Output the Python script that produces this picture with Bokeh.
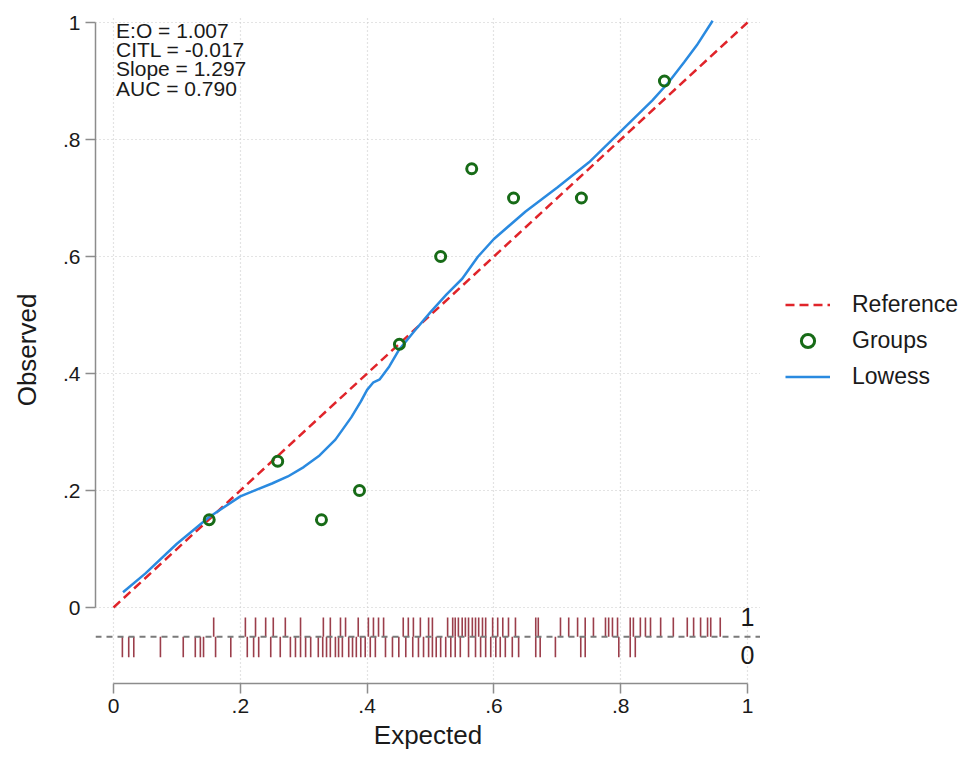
from bokeh.plotting import figure
from bokeh.layouts import row
from bokeh.models import (Legend, LegendItem, FixedTicker, Range1d, Span, Label)
from bokeh.embed import file_html
from bokeh.resources import INLINE

# ---------------- data ----------------
ref_x = [0.0, 1.0]
ref_y = [0.0, 1.0]

group_x = [0.151, 0.259, 0.328, 0.388, 0.451, 0.516, 0.565, 0.631, 0.738, 0.869]
group_y = [0.15, 0.25, 0.15, 0.20, 0.45, 0.60, 0.75, 0.70, 0.70, 0.90]

lowess_x = [0.015, 0.05, 0.10, 0.15, 0.20, 0.225, 0.25, 0.275, 0.30, 0.325, 0.35,
            0.375, 0.39, 0.40, 0.41, 0.42, 0.435, 0.45, 0.475, 0.50, 0.525, 0.55,
            0.575, 0.60, 0.65, 0.70, 0.75, 0.80, 0.85, 0.875, 0.90, 0.92, 0.945]
lowess_y = [0.026, 0.058, 0.109, 0.154, 0.190, 0.201, 0.212, 0.224, 0.240, 0.260, 0.287,
            0.325, 0.352, 0.372, 0.385, 0.390, 0.412, 0.440, 0.473, 0.505, 0.535, 0.562,
            0.600, 0.630, 0.677, 0.718, 0.761, 0.814, 0.867, 0.897, 0.932, 0.961, 1.003]

rug1_x = [0.158, 0.208, 0.224, 0.240, 0.252, 0.271, 0.295, 0.331, 0.342, 0.358,
          0.366, 0.386, 0.402, 0.410, 0.418, 0.426, 0.457, 0.465, 0.473, 0.484,
          0.497, 0.503, 0.527, 0.535, 0.539, 0.544, 0.550, 0.555, 0.560, 0.566,
          0.571, 0.576, 0.582, 0.587, 0.598, 0.606, 0.614, 0.623, 0.634, 0.666,
          0.670, 0.705, 0.718, 0.732, 0.744, 0.757, 0.776, 0.781, 0.787, 0.795,
          0.815, 0.820, 0.831, 0.839, 0.847, 0.863, 0.883, 0.905, 0.915, 0.926,
          0.937, 0.942, 0.957]
rug0_x = [0.014, 0.024, 0.032, 0.074, 0.110, 0.129, 0.137, 0.142, 0.161, 0.185,
          0.211, 0.221, 0.229, 0.248, 0.263, 0.279, 0.287, 0.295, 0.303, 0.311,
          0.323, 0.330, 0.336, 0.342, 0.350, 0.355, 0.361, 0.371, 0.377, 0.383,
          0.390, 0.397, 0.405, 0.413, 0.429, 0.440, 0.450, 0.461, 0.472, 0.481,
          0.489, 0.497, 0.503, 0.509, 0.516, 0.524, 0.532, 0.539, 0.547, 0.560,
          0.571, 0.579, 0.587, 0.595, 0.603, 0.610, 0.618, 0.629, 0.639, 0.666,
          0.673, 0.697, 0.737, 0.744, 0.797, 0.815, 0.823]

tick_vals = [0, 0.2, 0.4, 0.6, 0.8, 1]
tick_labels = ["0", ".2", ".4", ".6", ".8", "1"]

stats_lines = ["E:O = 1.007", "CITL = -0.017", "Slope = 1.297", "AUC = 0.790"]
rug_labels = ["1", "0"]
legend_labels = ["Reference", "Groups", "Lowess"]

FONT = "Liberation Sans"
AXIS_COL = "#8c8c8c"
TEXT_COL = "#1a1a1a"
REF_COL, GRP_COL, LOW_COL = "#e0242a", "#176b17", "#2a8ae0"
RUG_COL = "#8a1c2c"

# ---------------- main figure ----------------
p = figure(width=760, height=758, output_backend="svg", toolbar_location=None,
           x_range=Range1d(-0.0284, 1.0205), y_range=Range1d(-0.1299, 1.0103),
           min_border_left=95, min_border_right=0, min_border_top=16,
           min_border_bottom=75)
p.outline_line_color = None
p.background_fill_color = "white"
p.border_fill_color = "white"

for g in (p.xgrid, p.ygrid):
    g.ticker = FixedTicker(ticks=tick_vals)
    g.grid_line_color = "#c8c8c8"
    g.grid_line_dash = "1 3"
    g.grid_line_width = 1.2

for ax in (p.xaxis[0], p.yaxis[0]):
    ax.ticker = FixedTicker(ticks=tick_vals)
    ax.major_label_overrides = {v: l for v, l in zip(tick_vals, tick_labels)}
    ax.bounds = (0, 1)
    ax.axis_line_color = AXIS_COL
    ax.axis_line_width = 1.5
    ax.major_tick_line_color = AXIS_COL
    ax.major_tick_line_width = 1.5
    ax.major_tick_in = 0
    ax.major_tick_out = 10
    ax.minor_tick_line_color = None
    ax.major_label_text_font = FONT
    ax.major_label_text_font_size = "21px"
    ax.major_label_text_color = TEXT_COL
    ax.axis_label_text_font = FONT
    ax.axis_label_text_font_size = "26px"
    ax.axis_label_text_font_style = "normal"
    ax.axis_label_text_color = TEXT_COL
    ax.major_label_standoff = 5

p.xaxis.axis_label = "Expected"
p.yaxis.axis_label = "Observed"
p.yaxis.major_label_orientation = "horizontal"
p.xaxis.axis_label_standoff = 4
p.yaxis.axis_label_standoff = 18

p.add_layout(Span(location=-0.05, dimension="width", line_color="#7a7a7a",
                  line_dash="6 5", line_width=2))

p.segment(x0=rug1_x, y0=[-0.05] * len(rug1_x), x1=rug1_x, y1=[-0.017] * len(rug1_x),
          line_color=RUG_COL, line_alpha=0.85, line_width=1.6)
p.segment(x0=rug0_x, y0=[-0.05] * len(rug0_x), x1=rug0_x, y1=[-0.085] * len(rug0_x),
          line_color=RUG_COL, line_alpha=0.85, line_width=1.6)

p.line(ref_x, ref_y, line_color=REF_COL, line_width=2.5, line_dash="9 5")
p.line(lowess_x, lowess_y, line_color=LOW_COL, line_width=2.5)
p.scatter(group_x, group_y, marker="circle", size=10, line_color=GRP_COL,
          line_width=3, fill_alpha=0)

for i, s in enumerate(stats_lines):
    p.add_layout(Label(x=0.004, y=0.987 - i * 0.033, text=s, text_font=FONT,
                       text_font_size="21px", text_color=TEXT_COL,
                       text_baseline="alphabetic", text_align="left"))

for i, s in enumerate(rug_labels):
    p.add_layout(Label(x=1.0, y=-0.017 - i * 0.065, text=s, text_font=FONT,
                       text_font_size="25px", text_color=TEXT_COL,
                       text_baseline="middle", text_align="center"))

# ---------------- legend panel ----------------
# ranges chosen so the legend's own renderers stay out of view; only the key shows
pl = figure(width=200, height=758, output_backend="svg", toolbar_location=None,
            x_range=Range1d(10, 11), y_range=Range1d(10, 11),
            min_border_left=0, min_border_right=0, min_border_top=0,
            min_border_bottom=0)
pl.axis.visible = False
pl.grid.visible = False
pl.outline_line_color = None
pl.border_fill_color = "white"
pl.background_fill_color = "white"

l_ref = pl.line(ref_x, ref_y, line_color=REF_COL, line_width=2.5, line_dash="9 5")
l_grp = pl.scatter(group_x, group_y, marker="circle", size=10, line_color=GRP_COL,
                   line_width=3, fill_alpha=0)
l_low = pl.line(lowess_x, lowess_y, line_color=LOW_COL, line_width=2.5)

legend = Legend(items=[LegendItem(label=legend_labels[0], renderers=[l_ref]),
                       LegendItem(label=legend_labels[1], renderers=[l_grp]),
                       LegendItem(label=legend_labels[2], renderers=[l_low])],
                location=(15, 280))
legend.label_text_font = FONT
legend.label_text_font_size = "23px"
legend.label_text_color = TEXT_COL
legend.glyph_width = 45
legend.glyph_height = 33
legend.label_height = 33
legend.spacing = 3
legend.label_standoff = 22
legend.margin = 0
legend.padding = 10
legend.border_line_alpha = 0
legend.background_fill_alpha = 0
pl.add_layout(legend, "center")

layout = row(p, pl)
open("out.html", "w").write(file_html(layout, INLINE))
